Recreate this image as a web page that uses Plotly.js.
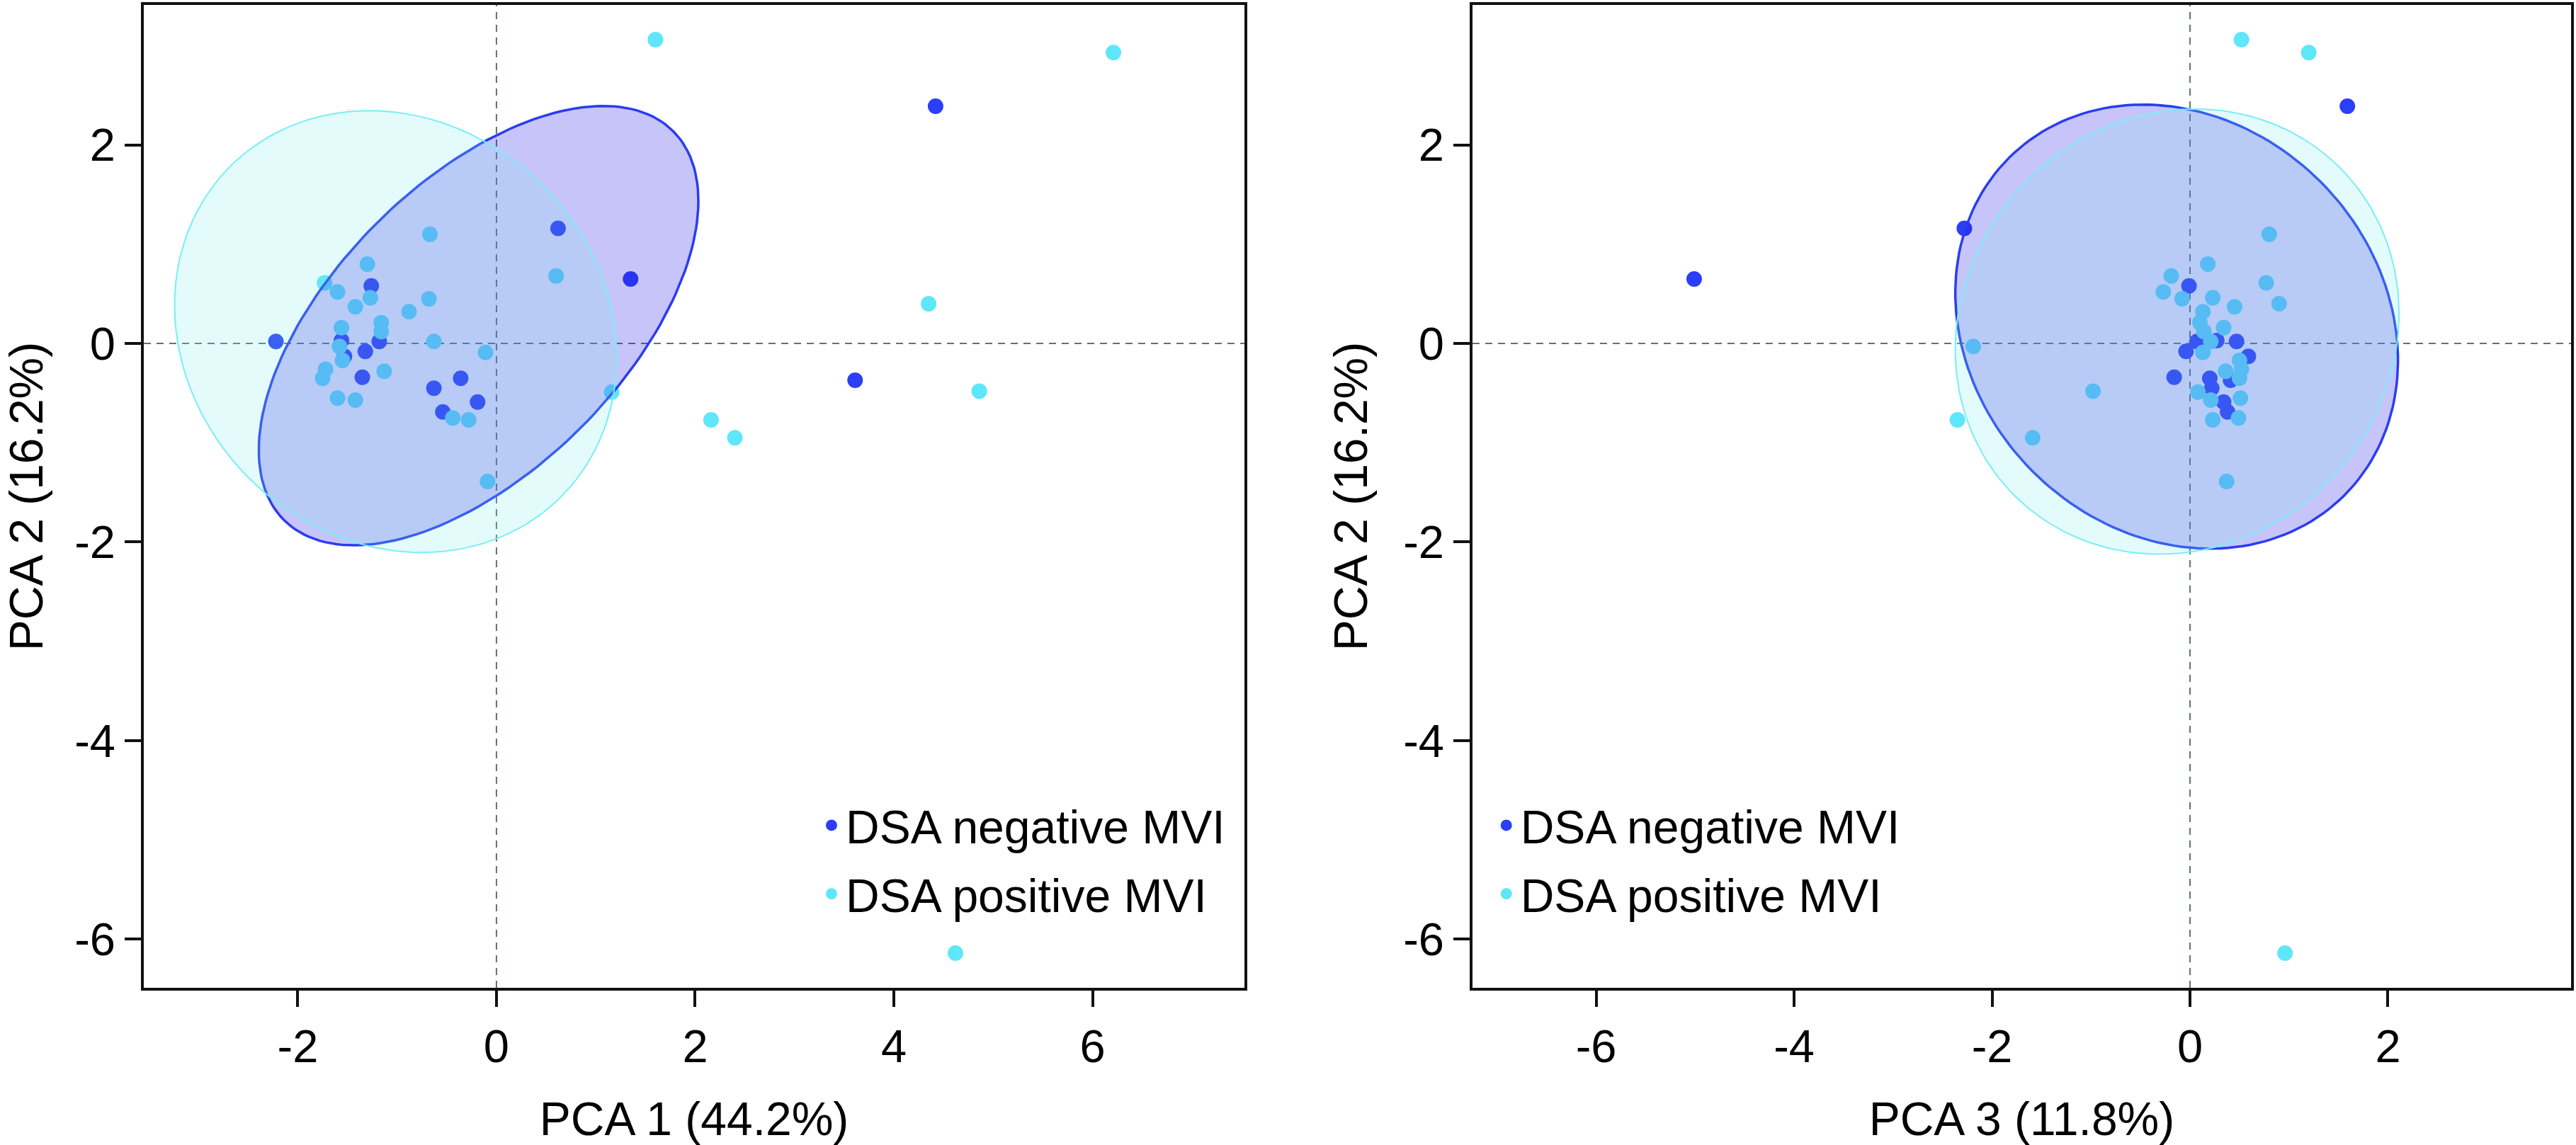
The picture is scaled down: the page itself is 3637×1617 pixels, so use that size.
<!DOCTYPE html>
<html>
<head>
<meta charset="utf-8">
<script src="https://cdn.plot.ly/plotly-3.0.1.min.js"></script>
<style>
html,body{margin:0;padding:0;background:#ffffff;}
#chart{width:3637px;height:1617px;}
</style>
</head>
<body>
<div id="chart"></div>
<script>
// ---------- data ----------
const groupNames = ["DSA negative MVI", "DSA positive MVI"];

// DSA negative MVI samples
const negPC1 = [4.42, 0.62, 1.35, -1.26, -2.22, -1.56, -1.18, -1.32, -1.53, -1.35, -0.36, 3.61, -0.63, -0.19, -0.54];
const negPC2 = [2.39, 1.16, 0.65, 0.58, 0.02, 0.03, 0.02, -0.08, -0.13, -0.34, -0.35, -0.37, -0.45, -0.59, -0.69];
const negPC3 = [1.59, -2.28, -5.01, -0.01, 0.07, 0.27, 0.47, -0.04, 0.59, -0.16, 0.20, 0.41, 0.22, 0.34, 0.38];

// DSA positive MVI samples
const posPC1 = [1.60, 6.21, -0.67, -1.30, 0.60, -1.73, -1.60, -1.27, -0.68, 4.35, -1.42, -0.88, -1.16, -1.56, -1.16, -0.63,
                -1.58, -0.11, -1.55, -1.72, -1.13, -1.75, 4.86, 1.16, -1.60, -1.42, -0.44, -0.28, 2.16, 2.40, -0.09, 4.62];
const posPC2 = [3.06, 2.93, 1.10, 0.80, 0.68, 0.61, 0.52, 0.46, 0.45, 0.40, 0.37, 0.32, 0.21, 0.16, 0.12, 0.02,
                -0.03, -0.09, -0.17, -0.26, -0.28, -0.35, -0.48, -0.49, -0.55, -0.57, -0.75, -0.77, -0.77, -0.95, -1.39, -6.14];
const posPC3 = [0.52, 1.20, 0.80, 0.18, -0.19, 0.77, -0.27, 0.23, -0.08, 0.90, 0.45, 0.13, 0.10, 0.34, 0.14, 0.21,
                -2.19, 0.13, 0.50, 0.52, 0.36, 0.50, -0.98, 0.08, 0.51, 0.21, 0.49, 0.23, -2.35, -1.59, 0.37, 0.96];

// confidence ellipses: [centre x, centre y, semi-major, semi-minor, major-axis angle in degrees]
const negEllipse1 = [-0.18, 0.18, 2.77, 1.455, 45];
const posEllipse1 = [-1.015, 0.12, 2.354, 2.088, 135];
const negEllipse2 = [-0.135, 0.17, 2.40, 2.06, 135];
const posEllipse2 = [-0.13, 0.12, 2.33, 2.15, 45];

const axisTitles = ["PCA 1 (44.2%)", "PCA 2 (16.2%)", "PCA 3 (11.8%)"];
const xTickVals1 = [-2, 0, 2, 4, 6];
const xTickText1 = ["-2", "0", "2", "4", "6"];
const xTickVals2 = [-6, -4, -2, 0, 2];
const xTickText2 = ["-6", "-4", "-2", "0", "2"];
const yTickVals = [-6, -4, -2, 0, 2];
const yTickText = ["-6", "-4", "-2", "0", "2"];

// ---------- styling ----------
const negColor = "#2b3ef8";
const posColor = "#5ee6fa";
const negFill = "rgba(30,20,230,0.25)";
const posFill = "rgba(120,235,235,0.20)";
const negLine = "#2a3cf2";
const posLine = "#79eef6";
const FONT = "Liberation Sans, Arial, Helvetica, sans-serif";

function ellipsePath(p) {
  const [cx, cy, a, b, deg] = p;
  const t = deg * Math.PI / 180;
  const xs = [], ys = [];
  const n = 180;
  for (let i = 0; i <= n; i++) {
    const u = 2 * Math.PI * i / n;
    const ex = a * Math.cos(u), ey = b * Math.sin(u);
    xs.push(cx + ex * Math.cos(t) - ey * Math.sin(t));
    ys.push(cy + ex * Math.sin(t) + ey * Math.cos(t));
  }
  return {xs, ys};
}

function pointTrace(x, y, name, color, xa, ya, leg, group) {
  return {type: "scatter", mode: "markers", x: x, y: y, name: name,
    xaxis: xa, yaxis: ya, legend: leg, legendgroup: group,
    marker: {size: 22, color: color, line: {width: 0}}, hoverinfo: "skip"};
}
function ellipseTrace(p, fill, lineColor, lineWidth, xa, ya) {
  const e = ellipsePath(p);
  return {type: "scatter", mode: "lines", x: e.xs, y: e.ys, fill: "toself",
    fillcolor: fill, line: {color: lineColor, width: lineWidth},
    xaxis: xa, yaxis: ya, showlegend: false, hoverinfo: "skip"};
}

const traces = [
  pointTrace(negPC1, negPC2, groupNames[0], negColor, "x", "y", "legend", "g1"),
  pointTrace(posPC1, posPC2, groupNames[1], posColor, "x", "y", "legend", "g2"),
  ellipseTrace(negEllipse1, negFill, negLine, 3.5, "x", "y"),
  ellipseTrace(posEllipse1, posFill, posLine, 2, "x", "y"),
  pointTrace(negPC3, negPC2, groupNames[0], negColor, "x2", "y2", "legend2", "h1"),
  pointTrace(posPC3, posPC2, groupNames[1], posColor, "x2", "y2", "legend2", "h2"),
  ellipseTrace(negEllipse2, negFill, negLine, 3.5, "x2", "y2"),
  ellipseTrace(posEllipse2, posFill, posLine, 2, "x2", "y2")
];

function xAxis(domain, range, vals, text, title, anchor) {
  return {domain: domain, range: range, anchor: anchor, tickmode: "array", tickvals: vals, ticktext: text,
    ticks: "outside", ticklen: 23, tickwidth: 4, tickcolor: "#111",
    showline: true, linewidth: 4, linecolor: "#111", mirror: true,
    showgrid: false, zeroline: false, automargin: true,
    tickfont: {family: FONT, size: 65, color: "#000"},
    title: {text: title, font: {family: FONT, size: 66, color: "#000"}, standoff: 46}};
}
function yAxis(range, anchor) {
  return {domain: [0, 1], range: range, anchor: anchor, tickmode: "array", tickvals: yTickVals, ticktext: yTickText,
    ticks: "outside", ticklen: 23, tickwidth: 4, tickcolor: "#111",
    showline: true, linewidth: 4, linecolor: "#111", mirror: true,
    showgrid: false, zeroline: false, automargin: true,
    tickfont: {family: FONT, size: 65, color: "#000"},
    title: {text: axisTitles[1], font: {family: FONT, size: 66, color: "#000"}, standoff: 30}};
}
function dashed(xref, yref, vertical) {
  const s = {type: "line", xref: xref, yref: yref, layer: "below",
    line: {color: "#5f7373", width: 2, dash: "10px,8px"}};
  if (vertical) { s.x0 = 0; s.x1 = 0; s.y0 = 0; s.y1 = 1; }
  else { s.x0 = 0; s.x1 = 1; s.y0 = 0; s.y1 = 0; }
  return s;
}

const layout = {
  width: 3637, height: 1617,
  margin: {l: 203, r: 3, t: 4, b: 222, pad: 0},
  paper_bgcolor: "#ffffff", plot_bgcolor: "#ffffff",
  font: {family: FONT, size: 65, color: "#000"},
  hovermode: false,
  xaxis: xAxis([0, 0.4535], [-3.55, 7.53], xTickVals1, xTickText1, axisTitles[0], "y"),
  yaxis: yAxis([-6.49, 3.41], "x"),
  xaxis2: xAxis([0.5474, 1], [-7.25, 3.85], xTickVals2, xTickText2, axisTitles[2], "y2"),
  yaxis2: yAxis([-6.49, 3.41], "x2"),
  legend: {x: 0.2775, y: 0.201, xanchor: "left", yanchor: "top", bgcolor: "rgba(0,0,0,0)",
    borderwidth: 0, font: {family: FONT, size: 66, color: "#000"}, tracegroupgap: 8},
  legend2: {x: 0.5555, y: 0.201, xanchor: "left", yanchor: "top", bgcolor: "rgba(0,0,0,0)",
    borderwidth: 0, font: {family: FONT, size: 66, color: "#000"}, tracegroupgap: 8},
  shapes: [
    dashed("x", "y domain", true), dashed("x domain", "y", false),
    dashed("x2", "y2 domain", true), dashed("x2 domain", "y2", false)
  ]
};

Plotly.newPlot("chart", traces, layout, {displayModeBar: false, staticPlot: true});
</script>
</body>
</html>
